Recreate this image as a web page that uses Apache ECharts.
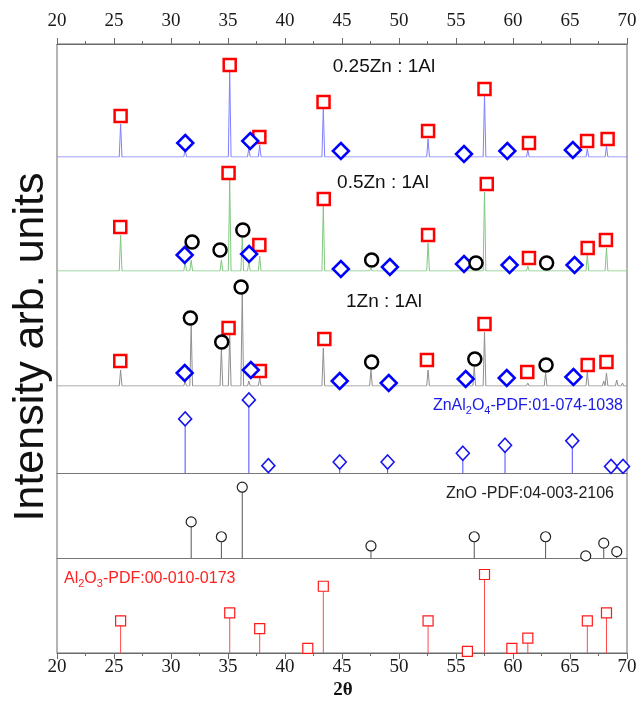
<!DOCTYPE html>
<html><head><meta charset="utf-8">
<script src="https://cdn.jsdelivr.net/npm/echarts@6/dist/echarts.min.js"></script>
<style>html,body{margin:0;padding:0;background:#fff}#c{width:640px;height:708px}</style>
</head><body><div id="c"></div>
<script>
// ---------- data (2θ, intensity a.u.) ----------
const xMin = 20, xMax = 70, xStep = 5;

// measured patterns: peak apex positions / heights
const peaks025 = [[25.58,33],[31.24,8],[35.15,85],[36.83,9],[37.78,12],[41.7,1],[43.36,48],[44.8,1.5],[49.0,1],[52.55,18],[55.6,1],[57.5,61],[59.3,1.5],[61.3,7],[65.2,1.5],[66.52,8],[68.2,11],[69.2,1]];
const peaks05 = [[25.58,36],[31.24,9],[31.77,11],[34.42,11],[35.15,92],[36.25,33],[36.83,9],[37.78,15],[43.36,66],[44.8,1],[47.54,3],[49.0,1],[52.55,28],[55.6,1],[56.6,2],[57.5,79],[59.3,1],[61.3,5],[62.86,2],[65.2,1],[66.52,16],[68.2,23],[69.1,2]];
const peaks1 = [[25.58,16],[31.24,5],[31.77,61],[34.42,38],[35.15,51],[36.25,93],[36.83,5],[37.78,8],[43.36,38],[44.8,1],[47.54,16],[49.0,1],[52.55,16],[55.6,1],[56.6,19],[57.5,54],[59.3,1],[61.3,3],[62.86,13],[65.2,1],[66.52,14],[67.96,5],[68.2,13],[69.1,6],[69.6,3]];

// phase markers on measured patterns
const sq025 = [[25.58,41],[35.15,92],[37.75,20],[43.38,55],[52.55,26],[57.5,68],[61.4,14],[66.5,16],[68.3,18]];
const di025 = [[31.25,14],[36.95,16],[44.9,6],[55.7,3],[59.5,6],[65.25,7]];
const sq05 = [[25.55,44],[35.05,98],[37.75,26],[43.4,72],[52.55,36],[57.7,87],[61.4,13],[66.55,23],[68.15,31]];
const di05 = [[31.2,16],[36.85,17],[44.9,2],[49.2,4],[55.7,7],[59.7,6],[65.4,6]];
const ci05 = [[31.85,29],[34.3,21],[36.3,41],[47.6,11],[56.75,8],[62.95,8]];
const sq1 = [[25.55,25],[35.05,58],[37.8,15],[43.45,47],[52.45,26],[57.5,62],[61.25,14],[66.55,21],[68.2,24]];
const di1 = [[31.2,13],[37.0,16],[44.8,5],[49.1,3],[55.85,7],[59.45,8],[65.3,9]];
const ci1 = [[31.7,68],[34.45,44],[36.15,99],[47.6,24],[56.65,27],[62.9,21]];

// reference cards (relative intensity %)
const znal2o4 = [[31.24,74],[36.83,100],[38.54,10],[44.8,15],[49.0,15],[55.6,27],[59.3,38],[65.2,44],[68.6,9],[69.65,9]];
const zno = [[31.77,51],[34.42,30],[36.25,100],[47.54,17],[56.6,30],[62.86,30],[66.38,3],[67.96,21],[69.1,9]];
const al2o3 = [[25.58,41],[35.15,51],[37.78,31],[42.0,6],[43.36,85],[52.55,41],[56.0,2],[57.5,100],[59.9,6],[61.3,19],[66.52,41],[68.2,51]];

const sampleLabels = ['0.25Zn : 1Al','0.5Zn : 1Al','1Zn : 1Al'];

// ---------- build ----------
const HW = 0.12;
function profile(peaks){
  const pts=[[xMin,0]];
  peaks.slice().sort((a,b)=>a[0]-b[0]).forEach(p=>{pts.push([p[0]-HW,0],[p[0],p[1]],[p[0]+HW,0]);});
  pts.push([xMax,0]);
  return pts;
}
const L=57,R=13;
const grids=[
  {left:L,right:R,top:44,height:609,show:true,borderColor:'#6a6a6a',borderWidth:1},
  {left:L,right:R,top:44,height:113},
  {left:L,right:R,top:158,height:113},
  {left:L,right:R,top:272,height:114},
  {left:L,right:R,top:386,height:87},
  {left:L,right:R,top:473,height:85},
  {left:L,right:R,top:558,height:95}
];
const frameAxis=(pos)=>({gridIndex:0,type:'value',position:pos,min:xMin,max:xMax,interval:xStep,
  axisLine:{show:true,lineStyle:{color:'#6a6a6a',width:1}},
  axisTick:{show:true,inside:false,length:6,lineStyle:{color:'#6a6a6a'}},
  minorTick:{show:true,splitNumber:2,length:3,lineStyle:{color:'#6a6a6a'}},
  splitLine:{show:false},
  axisLabel:{show:true,fontFamily:'Liberation Serif',fontSize:19,color:'#1a1a1a',margin:pos==='top'?13:5}
});
const inner=(gi,line)=>({gridIndex:gi,type:'value',min:xMin,max:xMax,interval:xStep,
  axisLine:{show:!!line,onZero:false,lineStyle:{color:'#777',width:1}},axisTick:{show:false},axisLabel:{show:false},splitLine:{show:false}});
const xAxis=[frameAxis('bottom'),frameAxis('top'),inner(1),inner(2),inner(3),inner(4,true),inner(5,true),inner(6)];
const yMax=[1,113,113,114,119,120,121];
const yAxis=yMax.map((m,i)=>({gridIndex:i,type:'value',min:0,max:m,show:false}));

const series=[];
const specColors=['#7f7fff','#80c880','#8f8f8f'];
[peaks025,peaks05,peaks1].forEach((pk,i)=>{
  series.push({type:'line',xAxisIndex:2+i,yAxisIndex:1+i,data:profile(pk),showSymbol:false,symbol:'none',
    lineStyle:{color:specColors[i],width:1},animation:false,silent:true,z:2});
});
function markers(data,xi,yi,shape,color,size,bw){
  return {type:'scatter',xAxisIndex:xi,yAxisIndex:yi,data:data,symbol:shape,symbolSize:size,
    itemStyle:{color:'#fff',borderColor:color,borderWidth:bw,opacity:1},animation:false,silent:true,z:5,clip:false};
}
series.push(markers(sq025,2,1,'rect','#ff0000',12,2.5));
series.push(markers(di025,2,1,'diamond','#0000ff',[16,16],2.5));
series.push(markers(sq05,3,2,'rect','#ff0000',12,2.5));
series.push(markers(di05,3,2,'diamond','#0000ff',[16,16],2.5));
series.push(markers(ci05,3,2,'circle','#000000',13,2.5));
series.push(markers(sq1,4,3,'rect','#ff0000',12,2.5));
series.push(markers(di1,4,3,'diamond','#0000ff',[16,16],2.5));
series.push(markers(ci1,4,3,'circle','#000000',13,2.5));

function sticks(data,xi,yi,color){
  return {type:'bar',xAxisIndex:xi,yAxisIndex:yi,data:data,barWidth:1,itemStyle:{color:color},animation:false,silent:true,z:3};
}
series.push(sticks(znal2o4,5,4,'#4a4aff'));
series.push(markers(znal2o4,5,4,'diamond','#1515ee',[13,14],1.6));
series.push(sticks(zno,6,5,'#555'));
series.push(markers(zno,6,5,'circle','#222',10,1.2));
series.push(sticks(al2o3,7,6,'#ff4a4a'));
series.push(markers(al2o3,7,6,'rect','#ff1a1a',10,1.2));

const lblFont={fontFamily:'Liberation Sans',fontSize:19,fill:'#111'};
const graphic=[
  {type:'text',x:384,y:67,style:Object.assign({text:sampleLabels[0],align:'center',verticalAlign:'middle'},lblFont)},
  {type:'text',x:383,y:183,style:Object.assign({text:sampleLabels[1],align:'center',verticalAlign:'middle'},lblFont)},
  {type:'text',x:384,y:302,style:Object.assign({text:sampleLabels[2],align:'center',verticalAlign:'middle'},lblFont)},
  {type:'text',x:623,y:406,style:{text:'{a|ZnAl}{s|2}{a|O}{s|4}{a|-PDF:01-074-1038}',align:'right',verticalAlign:'middle',
     rich:{a:{fontFamily:'Liberation Sans',fontSize:16,fill:'#1a1ae6'},s:{fontFamily:'Liberation Sans',fontSize:11,fill:'#1a1ae6',padding:[10,0,0,0]}}}},
  {type:'text',x:614,y:494,style:{text:'ZnO -PDF:04-003-2106',align:'right',verticalAlign:'middle',fontFamily:'Liberation Sans',fontSize:16,fill:'#222'}},
  {type:'text',x:64,y:579,style:{text:'{a|Al}{s|2}{a|O}{s|3}{a|-PDF:00-010-0173}',align:'left',verticalAlign:'middle',
     rich:{a:{fontFamily:'Liberation Sans',fontSize:16,fill:'#ff2020'},s:{fontFamily:'Liberation Sans',fontSize:11,fill:'#ff2020',padding:[10,0,0,0]}}}},
  {type:'text',x:31,y:347,rotation:Math.PI/2,style:{text:'Intensity arb. units',align:'center',verticalAlign:'middle',fontFamily:'Liberation Sans',fontSize:43,fill:'#111'}},
  {type:'text',x:343,y:690,style:{text:'2θ',align:'center',verticalAlign:'middle',fontFamily:'Liberation Serif',fontWeight:'bold',fontSize:19,fill:'#111'}}
];

const chart=echarts.init(document.getElementById('c'),null,{renderer:'canvas'});
chart.setOption({animation:false,backgroundColor:'#fff',grid:grids,xAxis:xAxis,yAxis:yAxis,series:series,graphic:graphic});
</script></body></html>
